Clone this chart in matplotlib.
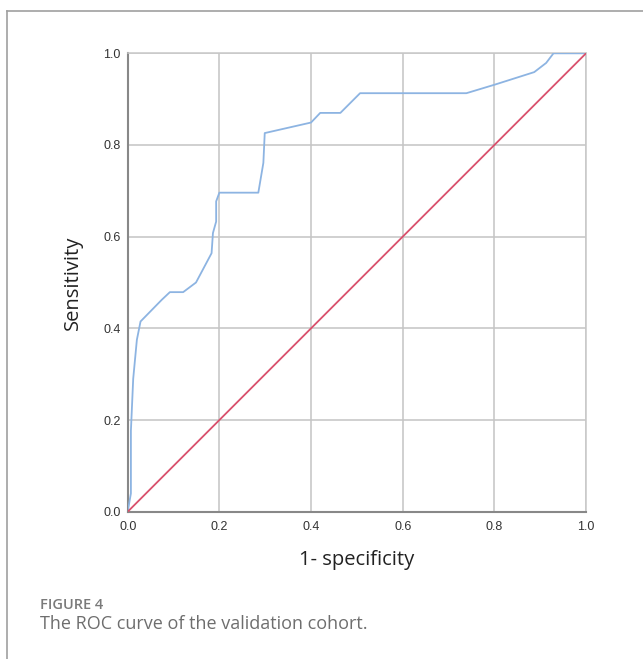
#!/usr/bin/env python3
import matplotlib
matplotlib.use("Agg")
import matplotlib.pyplot as plt
from matplotlib.lines import Line2D

# ROC curve of the validation cohort
fpr = [0.0, 0.007, 0.007, 0.012, 0.020, 0.028, 0.074, 0.092, 0.121, 0.149,
       0.183, 0.186, 0.193, 0.193, 0.200, 0.285, 0.296, 0.299, 0.400, 0.420,
       0.464, 0.507, 0.739, 0.802, 0.887, 0.913, 0.929, 1.0]
tpr = [0.0, 0.040, 0.177, 0.290, 0.375, 0.415, 0.462, 0.479, 0.479, 0.500,
       0.564, 0.608, 0.633, 0.677, 0.696, 0.696, 0.761, 0.826, 0.849, 0.870,
       0.870, 0.913, 0.913, 0.932, 0.959, 0.979, 1.0, 1.0]
ref_line = [0.0, 1.0]
ticks = [0.0, 0.2, 0.4, 0.6, 0.8, 1.0]
tick_labels = ["0.0", "0.2", "0.4", "0.6", "0.8", "1.0"]

fig = plt.figure(figsize=(6.43, 6.59), dpi=100)
ax = fig.add_axes([0.1986, 0.2235, 0.7128, 0.6956])

ax.plot(fpr, tpr, color="#8db4e2", lw=1.3, zorder=3)
ax.plot(ref_line, ref_line, color="#d9506c", lw=1.3, zorder=3)

ax.set_xlim(0, 1)
ax.set_ylim(0, 1)
ax.set_xticks(ticks)
ax.set_yticks(ticks)
ax.set_xticklabels(tick_labels, family="Liberation Sans", fontsize=9, color="#333333")
ax.set_yticklabels(tick_labels, family="Liberation Sans", fontsize=9, color="#333333")
ax.tick_params(length=0, pad=5)
ax.tick_params(axis="x", pad=7)
ax.grid(True, color="#c4c4c4", lw=1.1)
ax.set_axisbelow(True)

for side in ["top", "right"]:
    ax.spines[side].set_color("#c8c8c8")
    ax.spines[side].set_linewidth(1.1)
for side in ["left", "bottom"]:
    ax.spines[side].set_color("#888888")
    ax.spines[side].set_linewidth(1.5)

ax.set_xlabel("1- specificity", family="Open Sans", fontsize=14.5, color="#222222", labelpad=12)
ax.set_ylabel("Sensitivity", family="Open Sans", fontsize=14.5, color="#222222", labelpad=15)

# page frame lines (top and left)
fig.add_artist(Line2D([6.5 / 643, 1], [1 - 10.7 / 659] * 2, color="#a0a0a0", lw=1.2))
fig.add_artist(Line2D([6.5 / 643] * 2, [0, 1 - 10.7 / 659], color="#a0a0a0", lw=1.2))

fig.text(40 / 643, 1 - 605 / 659, "FIGURE 4", family="Open Sans", fontweight="semibold",
         fontsize=10.5, color="#7a7a7a", va="center", ha="left")
fig.text(40 / 643, 1 - 624 / 659, "The ROC curve of the validation cohort.", family="Open Sans",
         fontsize=13, color="#6e6e6e", va="center", ha="left")

fig.savefig("out.png", dpi=100)
